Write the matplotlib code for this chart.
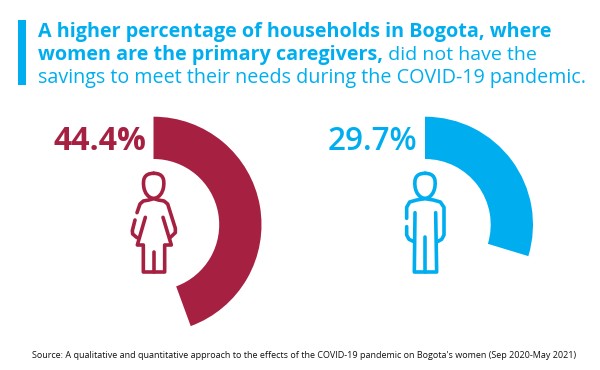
import matplotlib
matplotlib.use("Agg")
import matplotlib.pyplot as plt
from matplotlib.path import Path
from matplotlib.patches import PathPatch, Rectangle

plt.rcParams["font.family"] = ["Open Sans", "DejaVu Sans"]

# data
PCT_WOMEN = 44.4
PCT_MEN = 29.7
LABEL_WOMEN = "44.4%"
LABEL_MEN = "29.7%"
TITLE_1 = "A higher percentage of households in Bogota, where"
TITLE_2A = "women are the primary caregivers,"
TITLE_2B = " did not have the"
TITLE_3 = "savings to meet their needs during the COVID-19 pandemic."
SOURCE = "Source: A qualitative and quantitative approach to the effects of the COVID-19 pandemic on Bogota's women (Sep 2020-May 2021)"

RED = "#A62141"
BLUE = "#00AEEF"
H = 370

fig = plt.figure(figsize=(6, 3.7), dpi=100)
ax = fig.add_axes([0, 0, 1, 1])


def donut(pct, cx, color):
    ax.pie([pct, 100 - pct], colors=[color, "none"], startangle=90, counterclock=False,
           radius=108, center=(cx, H - 224.7), wedgeprops={"width": 42.3, "linewidth": 0})


donut(PCT_WOMEN, 153.5, RED)
donut(PCT_MEN, 425, BLUE)
ax.set_xlim(0, 600)
ax.set_ylim(0, H)
ax.set_aspect("auto")
ax.axis("off")


def stroke(x0, pts, codes, color):
    verts = [(x0 + x / 3, H - (100 + y / 3)) for x, y in pts]
    ax.add_patch(PathPatch(Path(verts, codes), fc="none", ec=color, lw=2.6,
                           capstyle="round", joinstyle="round"))


def polyline(x0, pts, color):
    stroke(x0, pts, [Path.MOVETO] + [Path.LINETO] * (len(pts) - 1), color)


def head(x0, cx, color):
    c = Path.CURVE4
    pts = [(cx, 220), (cx + 30, 220), (cx + 32, 240), (cx + 30, 258),
           (cx + 28, 280), (cx + 14, 295), (cx, 295),
           (cx - 14, 295), (cx - 28, 280), (cx - 30, 258),
           (cx - 32, 240), (cx - 30, 220), (cx, 220)]
    stroke(x0, pts, [Path.MOVETO] + [c] * 12, color)


# woman
head(0, 461, RED)
polyline(0, [(411, 338), (420, 312), (430, 303), (447, 300), (461, 296), (475, 300), (492, 303), (503, 312),
             (526, 385), (526, 398), (510, 413)], RED)
polyline(0, [(405, 360), (397, 392), (398, 402), (411, 413)], RED)
polyline(0, [(436, 352), (412, 435), (430, 435), (430, 516), (494, 516), (494, 435), (514, 435), (489, 352)], RED)
polyline(0, [(462, 456), (462, 516)], RED)

# man
head(300, 375, BLUE)
polyline(300, [(320, 355), (320, 322), (329, 306), (350, 300), (375, 296), (400, 300), (421, 306), (432, 322),
               (432, 405), (425, 418), (412, 425)], BLUE)
polyline(300, [(320, 380), (320, 405), (327, 418), (342, 425)], BLUE)
polyline(300, [(345, 338), (343, 516), (410, 516), (407, 338)], BLUE)
polyline(300, [(376, 410), (376, 516)], BLUE)

# percentages
ax.text(146, H - 150, LABEL_WOMEN, color=RED, fontsize=23, fontweight="bold", ha="right", va="baseline")
ax.text(417.5, H - 150, LABEL_MEN, color=BLUE, fontsize=22.7, fontweight="semibold", ha="right", va="baseline")

# title block
ax.add_patch(Rectangle((18, H - 85), 7.5, 65, fc=BLUE, ec="none"))
ax.text(38, H - 37, TITLE_1, color=BLUE, fontsize=14.2, fontweight="bold", va="baseline")
t2 = ax.text(38, H - 60, TITLE_2A, color=BLUE, fontsize=14.2, fontweight="bold", va="baseline")
fig.canvas.draw()
x2 = t2.get_window_extent().x1
ax.text(x2, H - 60, TITLE_2B, color=BLUE, fontsize=14, va="baseline")
ax.text(38, H - 83, TITLE_3, color=BLUE, fontsize=14.25, va="baseline")

ax.text(304, H - 356, SOURCE, color="#111111", fontsize=6.5, ha="center", va="center")

fig.savefig("out.png", dpi=100)
